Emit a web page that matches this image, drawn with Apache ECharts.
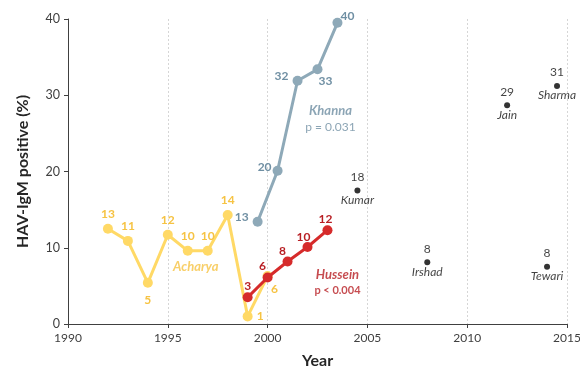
<!DOCTYPE html>
<html><head><meta charset="utf-8">
<script src="https://cdn.jsdelivr.net/npm/echarts@6/dist/echarts.min.js"></script>
<style>html,body{margin:0;padding:0;background:#fff;overflow:hidden}#c{width:580px;height:373px}</style>
</head><body><div id="c"></div>
<script>
// ---- data ----
const acharyaYears = [1992, 1993, 1994, 1995, 1996, 1997, 1998, 1999, 2000];
const acharyaValues = [12.5, 10.9, 5.4, 11.7, 9.6, 9.6, 14.3, 1.0, 6.3];
const acharyaLabels = ['13', '11', '5', '12', '10', '10', '14', '1', '6'];

const khannaYears = [1999.5, 2000.5, 2001.5, 2002.5, 2003.5];
const khannaValues = [13.4, 20.1, 31.9, 33.4, 39.5];
const khannaLabels = ['13', '20', '32', '33', '40'];

const husseinYears = [1999, 2000, 2001, 2002, 2003];
const husseinValues = [3.5, 6.1, 8.2, 10.1, 12.3];
const husseinLabels = ['3', '6', '8', '10', '12'];

const otherNames = ['Kumar', 'Irshad', 'Jain', 'Sharma', 'Tewari'];
const otherYears = [2004.5, 2008, 2012, 2014.5, 2014];
const otherValues = [17.5, 8.1, 28.7, 31.2, 7.5];
const otherLabels = ['18', '8', '29', '31', '8'];

const xTicks = [1990, 1995, 2000, 2005, 2010, 2015];
const yTicks = [0, 10, 20, 30, 40];

// ---- styling ----
const FONT = 'Lato';
const cYellow = '#FFD966', cYellowTxt = '#F6C343';
const cGrey = '#8EA9B8', cGreyTxt = '#6F8FA3';
const cRed = '#D62B2B', cRedTxt = '#B81F24';

const acharyaPos = ['top','top','bottom','top','top','top','top','right','bottom'];
const acharyaOff = [[0,0],[0,0],[0,2],[0,0],[0,0],[0,0],[0,0],[0,0],[7,-2]];
const khannaPos = ['left','left','left','bottom','right'];
const khannaOff = [[0,-5],[3,-4],[0,-5],[8,-3],[-6,-7]];
const husseinPos = ['top','top','top','top','top'];
const husseinOff = [[0,4],[-5,4],[-5,5],[-4,5],[-2,4]];

function pts(xs, ys, labels, pos, off) {
  return xs.map((x, i) => ({
    value: [x, ys[i]],
    label: { formatter: labels[i], position: pos[i], offset: off[i] }
  }));
}

const chart = echarts.init(document.getElementById('c'));
chart.setOption({
  animation: false,
  textStyle: { fontFamily: FONT },
  grid: { left: 68, right: 13, top: 19, bottom: 49, containLabel: false, outerBoundsMode: 'none' },
  xAxis: {
    type: 'value', min: xTicks[0], max: xTicks[xTicks.length - 1], interval: 5,
    name: 'Year', nameLocation: 'middle', nameGap: 29,
    nameTextStyle: { fontFamily: FONT, fontWeight: 'bold', fontSize: 16, color: '#262626' },
    axisLine: { show: true, lineStyle: { color: '#404040', width: 1 } },
    axisTick: { show: true, length: 4, lineStyle: { color: '#404040' } },
    axisLabel: { color: '#404040', fontSize: 12, margin: 8, fontFamily: FONT, formatter: v => String(v) },
    splitLine: { show: true, lineStyle: { color: '#d6d6d6', type: [2, 2], width: 1 } }
  },
  yAxis: {
    type: 'value', min: yTicks[0], max: yTicks[yTicks.length - 1], interval: 10,
    name: 'HAV-IgM positive (%)', nameLocation: 'middle', nameGap: 37,
    nameTextStyle: { fontFamily: FONT, fontWeight: 'bold', fontSize: 16, color: '#262626' },
    axisLine: { show: true, lineStyle: { color: '#404040', width: 1 } },
    axisTick: { show: true, length: 4, lineStyle: { color: '#404040' } },
    axisLabel: { color: '#404040', fontSize: 12.5, margin: 8, fontFamily: FONT },
    splitLine: { show: false }
  },
  series: [
    {
      name: 'Acharya', type: 'line', symbol: 'circle', symbolSize: 10,
      data: pts(acharyaYears, acharyaValues, acharyaLabels, acharyaPos, acharyaOff),
      lineStyle: { color: cYellow, width: 3 }, itemStyle: { color: cYellow },
      label: { show: true, color: cYellowTxt, fontWeight: 'bold', fontSize: 12, fontFamily: FONT, distance: 4 },
      z: 2
    },
    {
      name: 'Khanna', type: 'line', symbol: 'circle', symbolSize: 10,
      data: pts(khannaYears, khannaValues, khannaLabels, khannaPos, khannaOff),
      lineStyle: { color: cGrey, width: 3 }, itemStyle: { color: cGrey },
      label: { show: true, color: cGreyTxt, fontWeight: 'bold', fontSize: 12, fontFamily: FONT, distance: 4 },
      z: 3
    },
    {
      name: 'Hussein', type: 'line', symbol: 'circle', symbolSize: 10,
      data: pts(husseinYears, husseinValues, husseinLabels, husseinPos, husseinOff),
      lineStyle: { color: cRed, width: 3 }, itemStyle: { color: cRed },
      label: { show: true, color: cRedTxt, fontWeight: 'bold', fontSize: 12, fontFamily: FONT, distance: 4 },
      z: 4
    },
    {
      name: 'Others', type: 'scatter', symbol: 'circle', symbolSize: 6,
      data: otherYears.map((x, i) => ({ value: [x, otherValues[i]] })),
      itemStyle: { color: '#000' },
      label: {
        show: true, position: 'inside', offset: [0, -2],
        formatter: p => '{n|' + otherLabels[p.dataIndex] + '}\n{s|}\n{t|' + otherNames[p.dataIndex] + '}',
        rich: {
          n: { fontSize: 12, color: '#111', fontFamily: FONT, lineHeight: 13, align: 'center' },
          s: { lineHeight: 10, height: 10 },
          t: { fontSize: 12, color: '#111', fontStyle: 'italic', fontFamily: FONT, lineHeight: 13, align: 'center' }
        }
      },
      z: 5
    },
    {
      name: 'notes', type: 'scatter', symbolSize: 0, silent: true,
      data: [
        { value: [1996.4, 7.5], label: { formatter: '{a|Acharya}' } },
        { value: [2003.15, 27.0], label: { formatter: '{g|Khanna}\n{gp|p = 0.031}' } },
        { value: [2003.5, 5.5], label: { formatter: '{r|Hussein}\n{rp|p < 0.004}' } }
      ],
      label: {
        show: true, position: 'inside', align: 'center',
        rich: {
          a: { color: cYellowTxt, fontSize: 13, fontStyle: 'italic', fontWeight: 'bold', fontFamily: FONT },
          g: { color: cGreyTxt, fontSize: 13, fontStyle: 'italic', fontWeight: 'bold', fontFamily: FONT, lineHeight: 17 },
          gp: { color: cGreyTxt, fontSize: 12, fontFamily: FONT, lineHeight: 15 },
          r: { color: cRedTxt, fontSize: 13, fontStyle: 'italic', fontWeight: 'bold', fontFamily: FONT, lineHeight: 17 },
          rp: { color: cRedTxt, fontSize: 11, fontWeight: 'bold', fontFamily: FONT, lineHeight: 15 }
        }
      },
      z: 6
    }
  ]
});
</script></body></html>
